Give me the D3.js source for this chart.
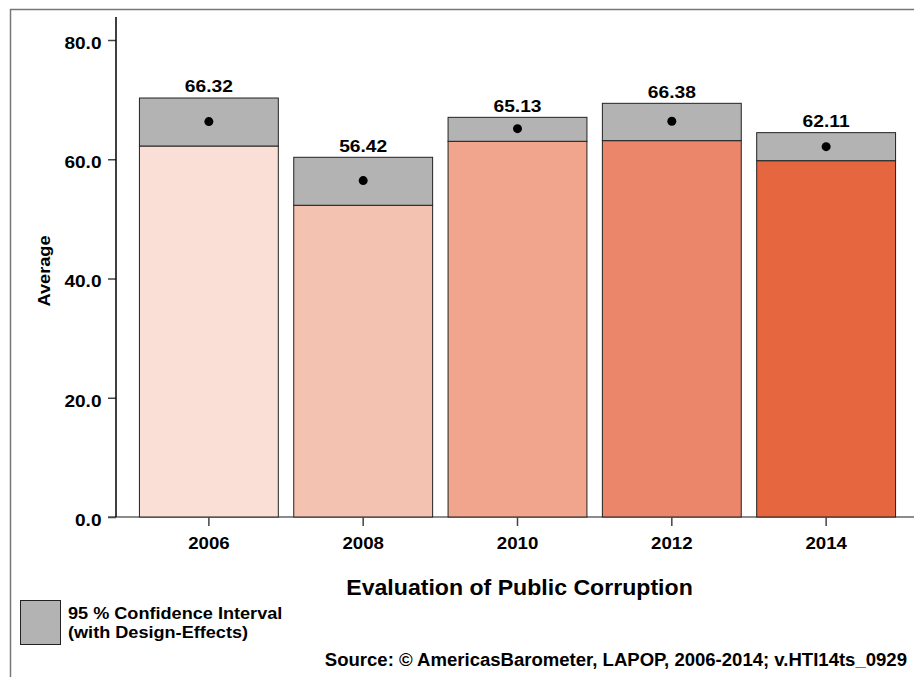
<!DOCTYPE html>
<html><head><meta charset="utf-8">
<script src="https://cdn.jsdelivr.net/npm/d3@7"></script>
<style>
body{margin:0;background:#fff;}
text{font-family:"Liberation Sans",Arial,sans-serif;font-weight:bold;fill:#000;}
</style></head>
<body><svg id="c" width="914" height="677"></svg>
<script>
const years = ["2006","2008","2010","2012","2014"];
const means = [66.32, 56.42, 65.13, 66.38, 62.11];
const ciLow = [62.22, 52.28, 63.01, 63.12, 59.76];
const ciHigh = [70.27, 60.33, 67.03, 69.38, 64.46];
const barColors = ["#f9dfd5","#f4c2b0","#f0a58c","#ec866a","#e6663f"];
const yTicks = [0, 20, 40, 60, 80];

const svg = d3.select("#c");
function stretch(sel, f){
  sel.each(function(){
    const L = this.getComputedTextLength();
    d3.select(this).attr("textLength", L*f).attr("lengthAdjust","spacingAndGlyphs");
  });
  return sel;
}
// frame
svg.append("line").attr("x1",10).attr("x2",914).attr("y1",9.5).attr("y2",9.5).attr("stroke","#777").attr("stroke-width",1.5);
svg.append("line").attr("x1",10.5).attr("x2",10.5).attr("y1",9).attr("y2",677).attr("stroke","#777").attr("stroke-width",1.5);

const y = d3.scaleLinear().domain([0,80]).range([517,40]);
const x = d3.scaleBand().domain(years).range([124,911]).paddingInner(0.1).paddingOuter(0.1);

// x axis baseline
svg.append("line").attr("x1",108).attr("x2",914).attr("y1",y(0)).attr("y2",y(0)).attr("stroke","#666").attr("stroke-width",1.5);

const g = svg.append("g");
years.forEach((yr,i)=>{
  const x0 = x(yr), w = x.bandwidth();
  g.append("rect").attr("x",x0).attr("y",y(ciLow[i])).attr("width",w).attr("height",y(0)-y(ciLow[i]))
    .attr("fill",barColors[i]).attr("stroke","#222").attr("stroke-width",1);
  g.append("rect").attr("x",x0).attr("y",y(ciHigh[i])).attr("width",w).attr("height",y(ciLow[i])-y(ciHigh[i]))
    .attr("fill","#b3b3b3").attr("stroke","#222").attr("stroke-width",1);
  g.append("circle").attr("cx",x0+w/2).attr("cy",y(means[i])).attr("r",4.5).attr("fill","#000");
  stretch(g.append("text").attr("x",x0+w/2).attr("y",y(ciHigh[i])-5.7).attr("text-anchor","middle")
    .attr("font-size",17).text(means[i].toFixed(2)), 1.13);
});

// y axis
const ya = svg.append("g").attr("transform","translate(116,0)")
  .call(d3.axisLeft(y).tickValues(yTicks).tickFormat(d3.format(".1f")).tickSize(8).tickSizeOuter(0));
ya.select(".domain").remove();
ya.selectAll(".tick line").attr("stroke","#444").attr("stroke-width",1.5);
stretch(ya.selectAll(".tick text").attr("font-size",17).attr("x",-14.5).attr("y",8.3).attr("dy","0")
  .attr("font-family","Liberation Sans,Arial,sans-serif").attr("font-weight","bold"), 1.12);
svg.append("line").attr("x1",116).attr("x2",116).attr("y1",17).attr("y2",517).attr("stroke","#000").attr("stroke-width",1.5);

// x axis ticks
const xa = svg.append("g").attr("transform",`translate(0,${y(0)})`)
  .call(d3.axisBottom(x).tickSize(9).tickSizeOuter(0));
xa.select(".domain").remove();
xa.selectAll(".tick line").attr("stroke","#444").attr("stroke-width",1.5);
stretch(xa.selectAll(".tick text").attr("font-size",16.5).attr("dy","0").attr("y",31.5)
  .attr("font-family","Liberation Sans,Arial,sans-serif").attr("font-weight","bold"), 1.13);

// axis titles
stretch(svg.append("text").attr("transform","translate(50,271) rotate(-90)").attr("text-anchor","middle").attr("font-size",17).text("Average"), 1.07);
stretch(svg.append("text").attr("x",519.5).attr("y",595).attr("text-anchor","middle").attr("font-size",22).text("Evaluation of Public Corruption"), 1.05);

// legend
svg.append("rect").attr("x",20.5).attr("y",600.5).attr("width",40).attr("height",44).attr("fill","#b3b3b3").attr("stroke","#222").attr("stroke-width",1);
stretch(svg.append("text").attr("x",68).attr("y",619.3).attr("font-size",17).text("95 % Confidence Interval"), 1.065);
stretch(svg.append("text").attr("x",68).attr("y",637.5).attr("font-size",17).text("(with Design-Effects)"), 1.065);

// source
stretch(svg.append("text").attr("x",907).attr("y",665.5).attr("text-anchor","end").attr("font-size",18).text("Source: © AmericasBarometer, LAPOP, 2006-2014; v.HTI14ts_0929"), 1.03);
</script></body></html>
